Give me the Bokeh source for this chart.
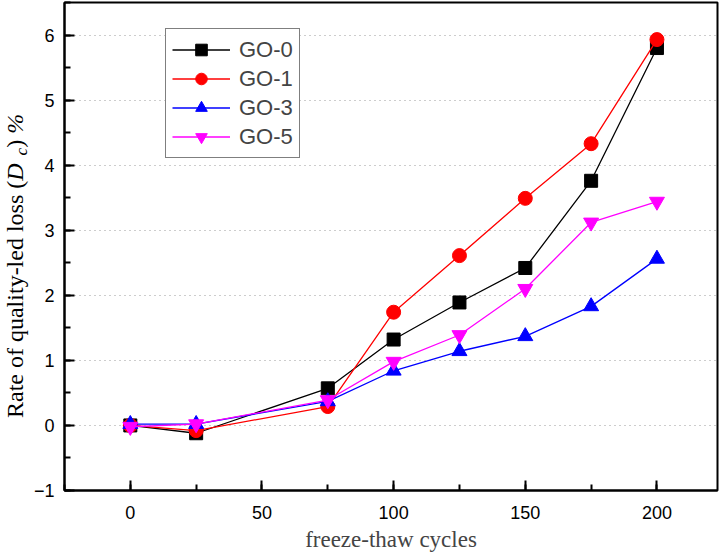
from bokeh.plotting import figure
from bokeh.models import (Range1d, SingleIntervalTicker, Legend, LegendItem, Div)
from bokeh.layouts import row
from bokeh.embed import file_html
from bokeh.resources import INLINE

# ---- data ----
cycles = [0, 25, 75, 100, 125, 150, 175, 200]
go0 = [0.00, -0.12, 0.57, 1.32, 1.89, 2.42, 3.76, 5.80]
go1 = [0.00, -0.08, 0.29, 1.74, 2.61, 3.49, 4.33, 5.93]
go3 = [0.02, 0.02, 0.37, 0.84, 1.14, 1.37, 1.83, 2.56]
go5 = [-0.02, 0.02, 0.39, 0.98, 1.39, 2.10, 3.12, 3.44]
series_names = ["GO-0", "GO-1", "GO-3", "GO-5"]
series_vals = [go0, go1, go3, go5]
colors = ["#000000", "#ff0000", "#0000ff", "#ff00ff"]
markers = ["square", "circle", "triangle", "inverted_triangle"]
sizes = [13, 14, 15, 15]

x_label = "freeze-thaw cycles"
y_label_html = ("Rate of quality-led loss (<i>D</i>"
                "<sub style=\"font-size:17px;margin-left:8px;vertical-align:-4px;line-height:0\"><i>c</i></sub>"
                ") <i>%</i>")

XMIN, XMAX, YMIN, YMAX = -25, 223, -1, 6.5
DIV_W = 30
W, H = 720 - DIV_W, 554

p = figure(width=W, height=H, x_range=Range1d(XMIN, XMAX), y_range=Range1d(YMIN, YMAX),
           min_border_left=60 - DIV_W, min_border_right=3, min_border_top=2, min_border_bottom=62,
           output_backend="svg", toolbar_location=None)
p.background_fill_color = "white"
p.border_fill_color = "white"
p.outline_line_color = "black"
p.outline_line_width = 2

# axes
p.xaxis.ticker = SingleIntervalTicker(interval=50, num_minor_ticks=2)
p.yaxis.ticker = SingleIntervalTicker(interval=1, num_minor_ticks=2)
for ax in (p.xaxis[0], p.yaxis[0]):
    ax.axis_line_width = 2
    ax.axis_line_color = "black"
    ax.major_tick_in = 10
    ax.major_tick_out = 0
    ax.minor_tick_in = 6
    ax.minor_tick_out = 0
    ax.major_tick_line_width = 2
    ax.minor_tick_line_width = 2
    ax.major_label_text_font = "Liberation Sans"
    ax.major_label_text_font_size = "18px"
    ax.major_label_text_color = "black"
p.xaxis.major_label_standoff = 15
p.yaxis.major_label_standoff = 10
p.xaxis.axis_label = x_label
p.xaxis.axis_label_text_font = "Liberation Serif"
p.xaxis.axis_label_text_font_size = "23px"
p.xaxis.axis_label_text_font_style = "normal"
p.xaxis.axis_label_standoff = 5
p.yaxis.axis_label = None

# grid
p.xgrid.visible = False
p.ygrid.grid_line_color = "#9a9a9a"
p.ygrid.grid_line_dash = "1 4"
p.ygrid.grid_line_width = 1.2

items = []
for name, vals, c, m, s in zip(series_names, series_vals, colors, markers, sizes):
    lr = p.line(cycles, vals, line_color=c, line_width=1.3)
    sr = p.scatter(cycles, vals, marker=m, size=s, fill_color=c, line_color=c)
    items.append(LegendItem(label=name, renderers=[lr, sr]))

# legend offset from frame bottom-left
legend = Legend(items=items, location=(101, 332))
legend.label_text_font = "Liberation Sans"
legend.label_text_font_size = "22px"
legend.glyph_width = 58
legend.glyph_height = 29
legend.label_height = 29
legend.label_standoff = 9
legend.spacing = 0
legend.padding = 6
legend.margin = 0
legend.border_line_color = "black"
legend.border_line_width = 1.2
legend.background_fill_alpha = 1
p.add_layout(legend, "center")

# rotated y-axis title with italic D and subscript c
ydiv = Div(text=("<div style=\"position:absolute;left:3px;top:418px;transform:rotate(-90deg);"
                 "transform-origin:0 0;white-space:nowrap;font-family:'Liberation Serif';"
                 "font-size:24px;line-height:1;color:black;\">" + y_label_html + "</div>"),
           width=DIV_W, height=H, margin=(0, 0, 0, 0))

layout = row(ydiv, p, spacing=0)
open("out.html", "w").write(file_html(layout, INLINE))
